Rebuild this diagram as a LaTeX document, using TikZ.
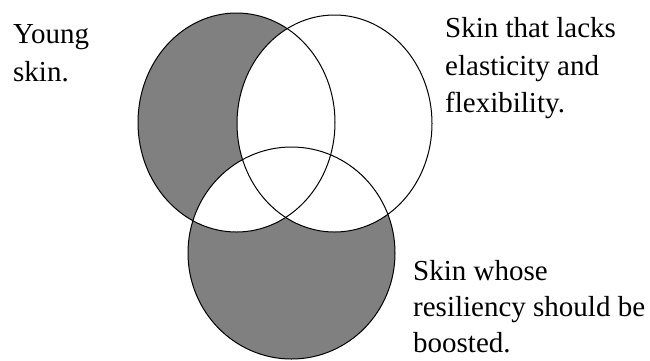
\documentclass[tikz,border=0pt]{standalone}
\usepackage{fontspec}
\setmainfont{Liberation Serif}
\definecolor{vgray}{RGB}{128,128,128}
\begin{document}
\begin{tikzpicture}[x=1pt,y=-1pt,
  lbl/.style={anchor=base west,inner sep=0pt,font=\fontsize{29}{37}\selectfont},
  ring/.style={draw=black,line width=1pt}]
\useasboundingbox (0,0) rectangle (650,360);
\def\ellL{(236.5,122.5) ellipse [x radius=98.5pt, y radius=109.5pt]}
\def\ellR{(334.5,123.5) ellipse [x radius=97.5pt, y radius=108.5pt]}
\def\ellB{(291.5,253) ellipse [x radius=103.5pt, y radius=106pt]}
\fill[vgray] \ellL;
\fill[vgray] \ellB;
\begin{scope}
  \clip \ellL;
  \fill[white] \ellR;
  \fill[white] \ellB;
\end{scope}
\begin{scope}
  \clip \ellR;
  \fill[white] \ellB;
\end{scope}
\draw[ring] \ellL;
\draw[ring] \ellR;
\draw[ring] \ellB;
\node[lbl] (y1) at (13,43) {Young};
\node[lbl] (y2) at (13,81) {skin.};
\node[lbl] (r1) at (445,37) {Skin that lacks};
\node[lbl] (r2) at (445,75) {elasticity and};
\node[lbl] (r3) at (445,112) {flexibility.};
\node[lbl] (b1) at (413,280) {Skin whose};
\node[lbl] (b2) at (413,316) {resiliency should be};
\node[lbl] (b3) at (413,352) {boosted.};
\end{tikzpicture}
\end{document}
